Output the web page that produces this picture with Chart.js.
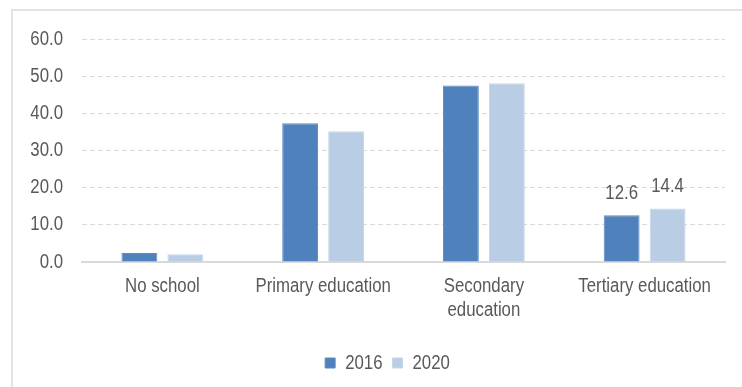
<!DOCTYPE html>
<html><head><meta charset="utf-8">
<script src="https://cdn.jsdelivr.net/npm/chart.js@4/dist/chart.umd.min.js"></script>
<style>
html,body{margin:0;padding:0;background:#fff;}
#wrap{position:relative;width:742px;height:387px;overflow:hidden;}
#frame{position:absolute;left:11px;top:9px;width:760px;height:400px;border-left:2px solid #e3e3e3;border-top:2px solid #e3e3e3;box-sizing:border-box;}
canvas{position:absolute;left:0;top:0;}
</style></head>
<body><div id="wrap"><div id="frame"></div><canvas id="c" width="742" height="387"></canvas></div>
<script>
const categories = ["No school", "Primary education", ["Secondary","education"], "Tertiary education"];
const series2016 = [2.4, 37.3, 47.5, 12.6];
const series2020 = [2.1, 35.2, 48.1, 14.4];
const seriesNames = ["2016", "2020"];
const yTicks = [0, 10, 20, 30, 40, 50, 60];
const labelledIndex = 3;

const FONT = "'Liberation Sans', Arial, sans-serif";
const TXT = '#595959';

// simulate a narrow (condensed) face by horizontally compressing real text
const SX = 0.84;
const P = CanvasRenderingContext2D.prototype;
const origFill = P.fillText, origMeasure = P.measureText;
P.fillText = function (text, x, y, maxWidth) {
  this.save();
  this.translate(x, y);
  this.scale(SX, 1);
  if (maxWidth !== undefined) origFill.call(this, text, 0, 0, maxWidth / SX);
  else origFill.call(this, text, 0, 0);
  this.restore();
};
P.measureText = function (text) {
  const m = origMeasure.call(this, text);
  return {
    width: m.width * SX,
    actualBoundingBoxAscent: m.actualBoundingBoxAscent,
    actualBoundingBoxDescent: m.actualBoundingBoxDescent,
    actualBoundingBoxLeft: m.actualBoundingBoxLeft * SX,
    actualBoundingBoxRight: m.actualBoundingBoxRight * SX
  };
};

const dataLabels = {
  id: 'dataLabels',
  afterDatasetsDraw(chart) {
    const ctx = chart.ctx;
    ctx.save();
    ctx.font = '20px ' + FONT;
    ctx.fillStyle = TXT;
    ctx.textAlign = 'center';
    ctx.textBaseline = 'alphabetic';
    chart.data.datasets.forEach((ds, i) => {
      const el = chart.getDatasetMeta(i).data[labelledIndex];
      ctx.fillText(ds.data[labelledIndex].toFixed(1), el.x, el.y - 16);
    });
    ctx.restore();
  }
};
const legendShift = {
  id: 'legendShift',
  afterLayout(chart) {
    chart.legend.left += 25;
    chart.legend.right += 25;
  }
};

new Chart(document.getElementById('c'), {
  type: 'bar',
  data: {
    labels: categories,
    datasets: [
      {label: seriesNames[0], data: series2016, backgroundColor: '#4f81bd', borderColor: '#5d8cc4', borderWidth: 1},
      {label: seriesNames[1], data: series2020, backgroundColor: '#b9cde5', borderColor: '#c5d6eb', borderWidth: 1}
    ]
  },
  options: {
    responsive: false,
    animation: false,
    devicePixelRatio: 1,
    layout: {padding: {left: 0, right: 17, top: 39, bottom: 4}},
    datasets: {bar: {categoryPercentage: 0.572, barPercentage: 0.78}},
    scales: {
      x: {
        grid: {display: false, drawTicks: false},
        border: {display: true, color: '#d9d9d9', width: 2},
        ticks: {color: TXT, font: {family: FONT, size: 20}, padding: 12, maxRotation: 0, autoSkip: false},
        afterFit(s) { s.height = 81; }
      },
      y: {
        min: 0, max: 60,
        afterBuildTicks(s) { s.ticks = yTicks.map(v => ({value: v})); },
        grid: {color: '#d9d9d9', lineWidth: 1, drawTicks: false},
        border: {display: false, dash: [5, 3]},
        ticks: {color: TXT, font: {family: FONT, size: 20}, padding: 19, callback: v => Number(v).toFixed(1)},
        afterFit(s) { s.width = 82; }
      }
    },
    plugins: {
      legend: {
        position: 'bottom',
        labels: {color: TXT, font: {family: FONT, size: 20}, boxWidth: 10, boxHeight: 10, padding: 10}
      },
      tooltip: {enabled: false}
    }
  },
  plugins: [dataLabels, legendShift]
});
</script></body></html>
